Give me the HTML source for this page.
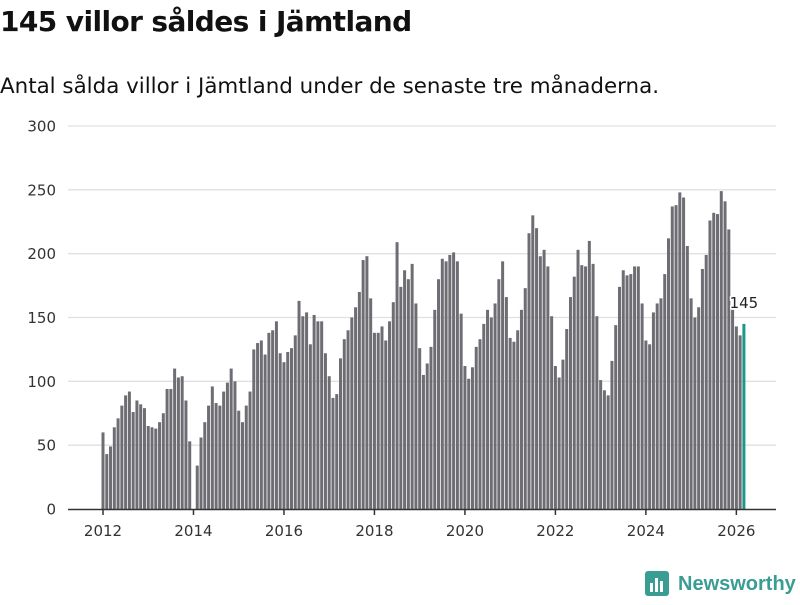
<!DOCTYPE html>
<html><head><meta charset="utf-8"><style>
body{margin:0;width:800px;height:600px;background:#fff;font-family:"DejaVu Sans","Liberation Sans",sans-serif;overflow:hidden;position:relative}
h1{position:absolute;left:0;top:5px;margin:0;font-size:28px;font-weight:bold;color:#111;letter-spacing:-0.6px}
p.sub{position:absolute;left:0;top:74px;margin:0;font-size:21.4px;color:#111}
svg{position:absolute;left:0;top:0}
</style></head><body>
<h1>145 villor såldes i Jämtland</h1>
<p class="sub">Antal sålda villor i Jämtland under de senaste tre månaderna.</p>
<svg id="chart" width="800" height="600"></svg>
<script>
const startYear = 2012;
const values = [
60,43,49,64,71,81,89,92,76,85,82,79,
65,64,63,68,75,94,94,110,103,104,85,53,
0,34,56,68,81,96,83,81,92,99,110,100,
77,68,81,92,125,130,132,121,138,140,147,122,
115,123,126,136,163,151,154,129,152,147,147,122,
104,87,90,118,133,140,150,158,170,195,198,165,
138,138,143,132,147,162,209,174,187,180,192,161,
126,105,114,127,156,180,196,194,199,201,194,153,
112,102,111,127,133,145,156,150,161,180,194,166,
134,131,140,156,173,216,230,220,198,203,190,151,
112,103,117,141,166,182,203,191,190,210,192,151,
101,93,89,116,144,174,187,183,184,190,190,161,
132,129,154,161,165,184,212,237,238,248,244,206,
165,150,158,188,199,226,232,231,249,241,219,156,
143,136,145];
const yTicks = [0,50,100,150,200,250,300];
const xTickYears = [2012,2014,2016,2018,2020,2022,2024,2026];

const NS='http://www.w3.org/2000/svg';
const svg=document.getElementById('chart');
const x0=103, pxPerMonth=3.77, yBase=509, pxPerUnit=383/300;
const xScale=i=>x0+i*pxPerMonth;
const yScale=v=>yBase-v*pxPerUnit;
function mk(tag,attrs){const e=document.createElementNS(NS,tag);for(const k in attrs)e.setAttribute(k,attrs[k]);svg.appendChild(e);return e;}

yTicks.forEach(t=>{
  if(t>0){const g=mk('line',{x1:68,x2:776,y1:yScale(t),y2:yScale(t),stroke:'#e0e0e0','stroke-width':1.3});
  
  }
  const tx=mk('text',{x:56,y:yScale(t)+5.5,'text-anchor':'end','font-size':15,fill:'#333'});
  tx.textContent=t;
  
  
});
values.forEach((v,i)=>{
  const last=i===values.length-1;
  const r=mk('rect',{x:xScale(i)-1.5,y:yScale(v),width:3,height:v*pxPerUnit,fill:last?'#1f968b':'#6e6d73'});
  
  
});
const ax=mk('line',{x1:68,x2:776,y1:yBase+0.5,y2:yBase+0.5,stroke:'#333','stroke-width':1.5});


xTickYears.forEach(yr=>{
  const x=xScale((yr-startYear)*12);
  const tk=mk('line',{x1:x,x2:x,y1:yBase,y2:yBase+6,stroke:'#333','stroke-width':1.5});
  
  
  const tx=mk('text',{x:x,y:536,'text-anchor':'middle','font-size':15,fill:'#333'});
  tx.textContent=yr;
  
  
});
const li=values.length-1;
const lab=mk('text',{x:xScale(li),y:yScale(values[li])-16,'text-anchor':'middle','font-size':15,fill:'#222',stroke:'#fff','stroke-width':3,'paint-order':'stroke'});
lab.textContent=values[li];


</script>
<svg width="160" height="40" style="left:640px;top:565px">
<rect x="5" y="6" width="24" height="25" rx="3" fill="#3a9d93"/>
<rect x="10" y="18" width="3" height="9" fill="#fff"/><rect x="15" y="13" width="3" height="14" fill="#fff"/><rect x="20" y="16" width="3" height="11" fill="#fff"/>
<text x="38" y="25" font-size="20" font-weight="bold" fill="#3a9d93" font-family="Liberation Sans, sans-serif">Newsworthy</text>
</svg>
</body></html>
